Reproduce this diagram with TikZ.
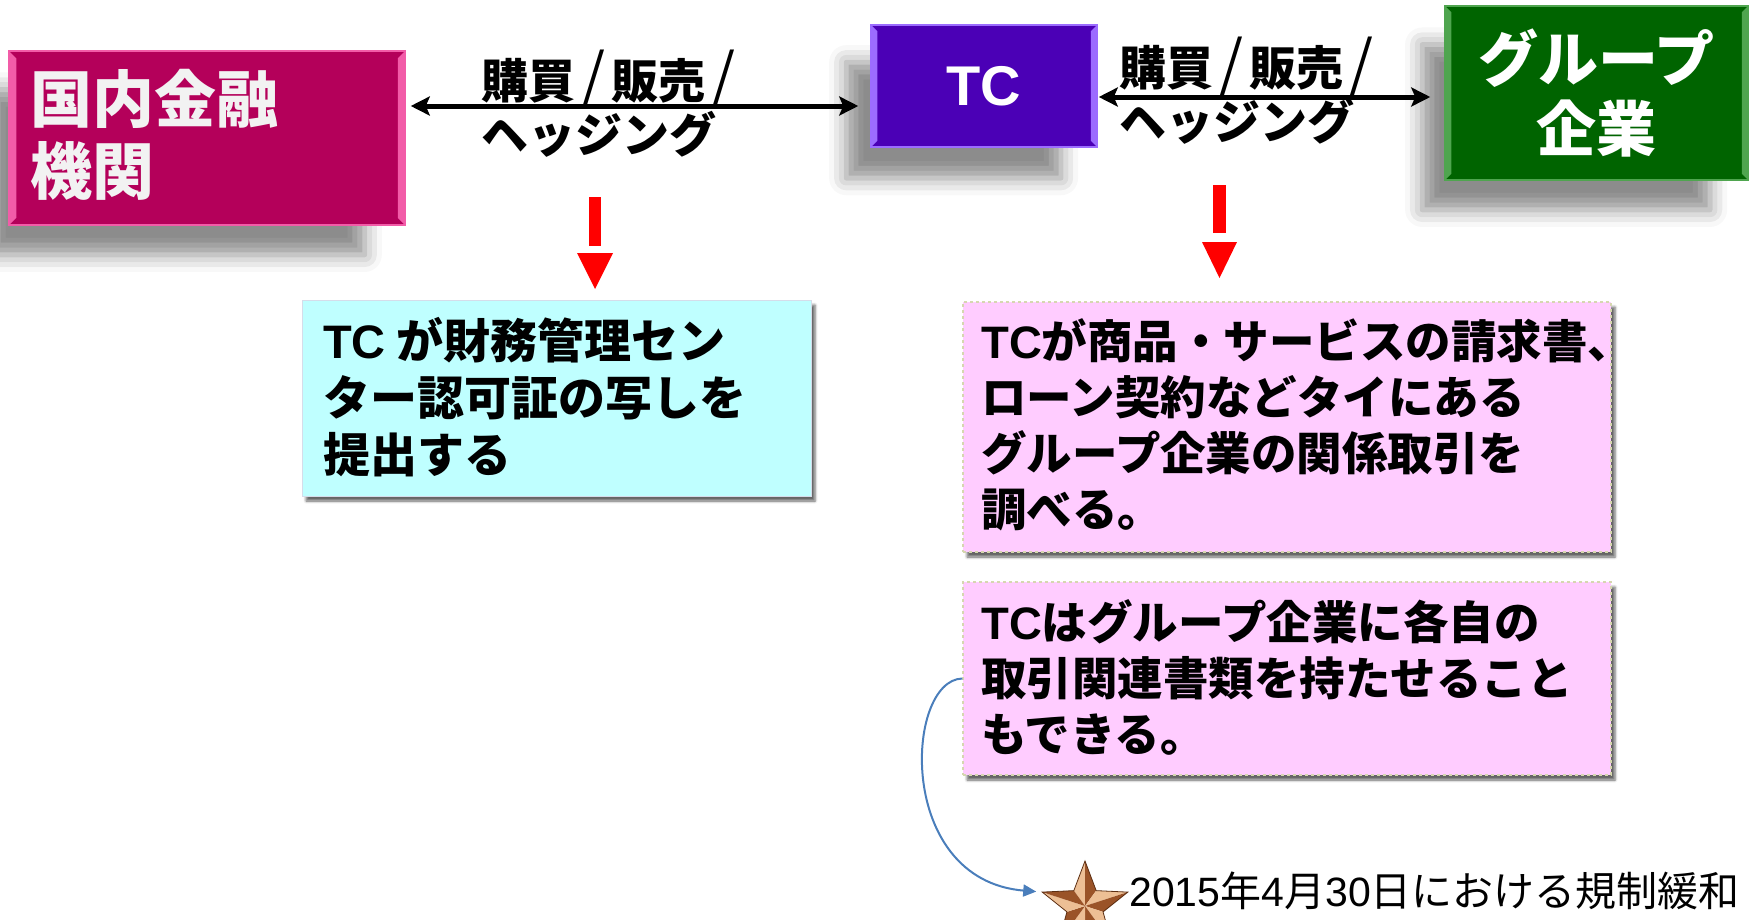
\documentclass[tikz,border=0pt]{standalone}
\usepackage{fontspec}
\setmainfont{Noto Sans CJK JP}
\newfontfamily\lat{Liberation Sans}
\usetikzlibrary{arrows.meta,shadows.blur,calc}
\definecolor{mag}{HTML}{B4005A}
\definecolor{magl}{HTML}{F25CA8}
\definecolor{pur}{HTML}{4B00B6}
\definecolor{purl}{HTML}{9C6CFF}
\definecolor{grn}{HTML}{006400}
\definecolor{grnl}{HTML}{4FA54F}
\definecolor{cyanbox}{HTML}{BFFFFF}
\definecolor{cyanedge}{HTML}{D5DDEA}
\definecolor{pinkbox}{HTML}{FFCCFF}
\definecolor{pinkedge}{HTML}{D6D6B0}
\definecolor{bluearr}{HTML}{4A7EBB}
\definecolor{brL}{HTML}{EDBF95}
\definecolor{brD}{HTML}{9A5328}
\definecolor{brO}{HTML}{5C2E12}
\newcommand\bevelbox[3]{%
  \fill[#2] (#1.north west) -- (#1.south west) -- ([xshift=#3pt,yshift=#3pt]#1.south west) -- ([xshift=#3pt,yshift=-#3pt]#1.north west) -- cycle;
  \fill[#2] (#1.north east) -- (#1.south east) -- ([xshift=-#3pt,yshift=#3pt]#1.south east) -- ([xshift=-#3pt,yshift=-#3pt]#1.north east) -- cycle;
}
\newcommand\myslash{\kern6pt{\mdseries\scalebox{1.3}[1.3]{/}}\kern6pt}
\begin{document}
\begin{tikzpicture}[x=1pt,y=-1pt,
  topbox/.style={rectangle, inner sep=0pt, text=white,
    blur shadow={shadow xshift=-32pt, shadow yshift=-36pt, shadow blur radius=18pt, shadow opacity=45, shadow scale=0.95}},
  notebox/.style={rectangle, inner sep=0pt,
    blur shadow={shadow xshift=4pt, shadow yshift=-5pt, shadow blur radius=2.5pt, shadow opacity=60}},
  lbl/.style={inner sep=0pt, align=left, anchor=west, font=\bfseries\fontsize{47}{54}\selectfont},
  notetext/.style={inner sep=0pt, align=left, anchor=west},
  dbl/.style={{Stealth[length=19pt,width=19pt,inset=4pt]}-{Stealth[length=19pt,width=19pt,inset=4pt]}, line width=5pt},
]
\useasboundingbox (0,0) rectangle (1754,919);

% top boxes
\node[topbox, fill=mag, draw=magl, line width=1.5pt, minimum width=396pt, minimum height=174pt] (m) at (207,138) {};
\bevelbox{m}{magl}{8}
\node[inner sep=0pt, anchor=west, text=white!95!black, align=left, font=\bfseries\fontsize{62}{72}\selectfont] (mt) at (30,135) {国内金融\\機関};

\node[topbox, fill=pur, draw=purl, line width=1.5pt, minimum width=226pt, minimum height=122pt,
  font=\lat\bfseries\fontsize{56}{60}\selectfont] (tc) at (984,86) {TC};
\bevelbox{tc}{purl}{7}

\node[topbox, fill=grn, draw=grnl, line width=1.5pt, minimum width=303pt, minimum height=174pt,
  align=center, font=\bfseries\fontsize{60}{70}\selectfont] (grp) at (1596.5,93) {グループ\\企業};
\bevelbox{grp}{grnl}{7}

% labels
\node[lbl] (l1) at (481,104) {購買\myslash 販売\myslash\\ヘッジング};
\node[lbl] (l2) at (1119,91) {購買\myslash 販売\myslash\\ヘッジング};

% double arrows
\draw[dbl, shorten <=5pt, shorten >=12pt] ([yshift=32pt]m.east) -- ([yshift=32pt]m.east -| tc.west);
\draw[dbl, shorten <=1pt, shorten >=14pt] ([yshift=-11pt]tc.east) -- ([yshift=-11pt]tc.east -| grp.west);

% red arrows
\fill[red] (589,197) rectangle (601,246);
\fill[red] (577,253) -- (613,253) -- (595,289) -- cycle;
\fill[red] (1213,185) rectangle (1226,233);
\fill[red] (1202,242) -- (1237,242) -- (1219.5,278) -- cycle;

% note boxes
\node[notebox, fill=cyanbox, draw=cyanedge, line width=1pt, minimum width=509pt, minimum height=196pt] (c1) at (556.5,398) {};
\node[notetext, font=\bfseries\fontsize{47}{57}\selectfont] (c1t) at (323,397) {{\lat TC} が財務管理セン\\ター認可証の写しを\\提出する};

\node[notebox, fill=pinkbox, draw=pinkedge, dashed, line width=1.5pt, minimum width=648pt, minimum height=250pt] (p1) at (1287,427) {};
\node[notetext, font=\bfseries\fontsize{45.5}{56}\selectfont] (p1t) at (981,425) {{\lat TC}が商品・サービスの請求書、\\ローン契約などタイにある\\グループ企業の関係取引を\\調べる。};

\node[notebox, fill=pinkbox, draw=pinkedge, dashed, line width=1.5pt, minimum width=648pt, minimum height=193pt] (p2) at (1287,678.5) {};
\node[notetext, font=\bfseries\fontsize{45.5}{56}\selectfont] (p2t) at (981,677.5) {{\lat TC}はグループ企業に各自の\\取引関連書類を持たせること\\もできる。};

% star
\begin{scope}[shift={(1085,906)}]
  \foreach \k in {0,...,4} {
    \pgfmathsetmacro\a{-90+72*\k}
    \pgfmathsetmacro\b{\a-36}
    \pgfmathsetmacro\c{\a+36}
    \fill[brL] (0,0) -- (\a:45) -- (\b:19) -- cycle;
    \fill[brD] (0,0) -- (\a:45) -- (\c:19) -- cycle;
  }
  \draw[brO, line width=0.8pt, line join=miter] (-90:45) -- (-54:19) -- (-18:45) -- (18:19) -- (54:45) -- (90:19) -- (126:45) -- (162:19) -- (198:45) -- (234:19) -- cycle;
\end{scope}
\coordinate (starW) at (1042.2,892.1);

\node[inner sep=0pt, anchor=west, font=\fontsize{41}{46}\selectfont] (reg) at (1129,891) {{\lat 2015}年{\lat 4}月{\lat 30}日における規制緩和};

\draw[bluearr, line width=2pt, -{Triangle[length=13pt,width=12pt]}, shorten >=6pt]
  (p2.west) .. controls (905,680) and (895,880) .. (starW);
\end{tikzpicture}
\end{document}
